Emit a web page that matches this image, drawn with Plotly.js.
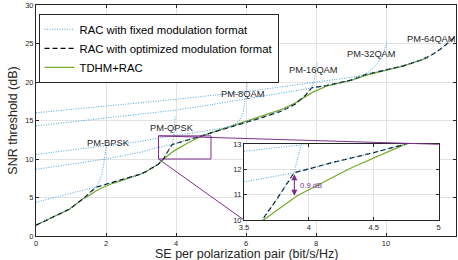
<!DOCTYPE html>
<html><head><meta charset="utf-8">
<script src="https://cdn.plot.ly/plotly-3.0.1.min.js"></script>
<style>html,body{margin:0;padding:0;background:#fff}#chart{width:458px;height:260px}</style>
</head><body><div id="chart"></div>
<script>
// ---- data ----
// RAC with fixed modulation format (one curve per format)
const bpskSE  = [0, 0.5, 0.95, 1.33, 1.57, 1.71, 1.8, 1.88, 1.93, 1.97, 2.0, 2.01];
const bpskSNR = [1.4, 2.45, 3.47, 4.77, 5.76, 6.32, 7.0, 8.0, 9.2, 10.3, 11.2, 11.6];
const qpskSE  = [0, 0.5, 1.0, 1.5, 1.71, 2.0, 2.5, 3.0, 3.14, 3.5, 3.64, 3.75, 3.885, 3.94, 3.96, 3.975];
const qpskSNR = [4.38, 4.94, 5.5, 6.06, 6.3, 6.72, 7.35, 8.05, 8.35, 9.35, 10.0, 10.8, 11.87, 13.0, 14.3, 15.7];
const qam8SE  = [0, 1, 2, 3, 3.47, 3.885, 4.2, 4.5, 4.74, 5.0, 5.3, 5.55, 5.7, 5.83, 5.92, 5.98, 6.02, 6.04];
const qam8SNR = [8.66, 9.3, 10.0, 10.9, 11.48, 11.87, 12.3, 12.67, 13.0, 13.4, 13.8, 14.2, 14.6, 15.1, 16.0, 17.5, 19.0, 20.3];
const qam16SE  = [0, 1, 2, 3, 3.5, 3.93, 4.5, 5.0, 5.55, 5.85, 6.4, 7.0, 7.4, 7.7, 7.88, 7.95, 8.0, 8.03];
const qam16SNR = [10.6, 11.15, 11.7, 12.3, 12.72, 12.97, 13.4, 13.75, 14.2, 14.6, 15.3, 16.2, 17.1, 18.3, 19.25, 20.3, 21.4, 22.4];
const qam32SE  = [0, 2, 4, 5, 6, 7, 7.5, 7.88, 8.3, 8.7, 9.0, 9.3, 9.5, 9.7, 9.85, 9.95, 10.03];
const qam32SNR = [14.3, 15.3, 16.35, 17.05, 17.8, 18.55, 18.9, 19.25, 19.55, 19.9, 20.25, 20.75, 21.3, 22.1, 23.0, 24.0, 25.2];
const qam64SE  = [0, 2, 4, 6, 8, 9, 9.4, 10, 10.5, 11, 11.3, 11.6, 11.8, 11.95, 12.0];
const qam64SNR = [16.0, 16.85, 17.75, 18.75, 19.95, 20.6, 20.95, 21.55, 22.1, 22.85, 23.5, 24.4, 25.2, 25.8, 26.0];
// RAC with optimized modulation format
const optSE  = [0, 0.5, 0.95, 1.33, 1.57, 1.71, 2.0, 2.5, 3.0, 3.14, 3.5, 3.64, 3.75, 3.885, 4.2, 4.5, 4.74, 5.0, 5.3, 5.55, 5.85, 6.4, 7.0, 7.4, 7.7, 7.88, 8.3, 8.7, 9.0, 9.4, 10.0, 10.5, 11.0, 11.3, 11.6, 11.8, 11.95, 12.0];
const optSNR = [1.4, 2.45, 3.47, 4.77, 5.76, 6.32, 6.72, 7.35, 8.05, 8.35, 9.35, 10.0, 10.8, 11.87, 12.3, 12.67, 13.0, 13.4, 13.8, 14.2, 14.6, 15.3, 16.2, 17.1, 18.3, 19.25, 19.55, 19.9, 20.25, 20.95, 21.55, 22.1, 22.85, 23.5, 24.4, 25.2, 25.8, 26.0];
// TDHM+RAC
const tdhmSE  = [0, 0.5, 0.95, 1.33, 1.5, 1.71, 1.9, 2.2, 2.6, 3.0, 3.14, 3.5, 3.65, 3.91, 4.32, 4.74, 5.0, 5.5, 6.0, 6.5, 7.0, 7.4, 7.7, 7.9, 8.3, 8.7, 9.0, 9.5, 10.0, 10.5, 11.0, 11.2];
const tdhmSNR = [1.4, 2.45, 3.47, 4.77, 5.2, 5.85, 6.3, 6.85, 7.4, 8.05, 8.35, 9.35, 10.0, 10.96, 12.05, 13.0, 13.4, 14.15, 14.85, 15.55, 16.4, 17.25, 18.05, 18.65, 19.45, 19.85, 20.2, 20.95, 21.55, 22.1, 22.85, 23.2];
// format labels
const fmtLabels = ['PM-BPSK', 'PM-QPSK', 'PM-8QAM', 'PM-16QAM', 'PM-32QAM', 'PM-64QAM'];
const fmtLabelSE = [2.06, 3.89, 5.9, 7.94, 9.58, 11.3];
const fmtLabelSNR = [12.1, 14.0, 18.4, 21.5, 23.6, 25.6];
const gapLabel = '0.9 dB';
const gapSE = 3.888, gapLow = 10.96, gapHigh = 11.87;
const seriesNames = ['RAC with fixed modulation format', 'RAC with optimized modulation format', 'TDHM+RAC'];
const xTitle = 'SE per polarization pair (bit/s/Hz)';
const yTitle = 'SNR threshold (dB)';

// ---- styling / layout ----
const FONT = 'Liberation Sans, Arial, Helvetica, sans-serif';
const BLUE = '#4aa3df', GREEN = '#77ac30', PURPLE = '#7e2f8e', AX = '#262626', GRID = '#e3e3e3';
const zoomX = [3.5, 5], zoomY = [10, 13];
const mainX = [0, 12], mainY = [0, 30];
const inDomX = [0.4952, 0.9588], inDomY = [0.0693, 0.397];

const fixedSets = [[bpskSE,bpskSNR],[qpskSE,qpskSNR],[qam8SE,qam8SNR],[qam16SE,qam16SNR],[qam32SE,qam32SNR],[qam64SE,qam64SNR]];
const traces = [];
['', '2'].forEach(function(s){
  const ax = {xaxis:'x'+s, yaxis:'y'+s};
  const main = s === '';
  traces.push(Object.assign({x:tdhmSE, y:tdhmSNR, mode:'lines', name:seriesNames[2], legendrank:3,
    showlegend:main, line:{color:GREEN, width:1.3}}, ax));
  traces.push(Object.assign({x:optSE, y:optSNR, mode:'lines', name:seriesNames[1], legendrank:2,
    showlegend:main, line:{color:'#000', width:1.2, dash:'5px,3px'}}, ax));
  fixedSets.forEach(function(p, i){
    traces.push(Object.assign({x:p[0], y:p[1], mode:'lines', name:seriesNames[0], legendrank:1,
      showlegend: main && i===0, line:{color:BLUE, width:1, dash:'1px,1.5px'}}, ax));
  });
});

const annotations = fmtLabels.map(function(t, i){
  return {x:fmtLabelSE[i], y:fmtLabelSNR[i], xref:'x', yref:'y', text:t, showarrow:false,
    font:{family:FONT, size:9.3, color:AX}};
});
annotations.push({x:gapSE, y:gapLow, ax:gapSE, ay:gapHigh, xref:'x2', yref:'y2', axref:'x2', ayref:'y2',
  text:'', showarrow:true, arrowhead:2, arrowside:'end+start', arrowsize:1.1, arrowwidth:1.1,
  arrowcolor:PURPLE, standoff:0, startstandoff:0});
annotations.push({x:gapSE + 0.03, y:(gapLow + gapHigh)/2 - 0.03, xref:'x2', yref:'y2', xanchor:'left',
  text:gapLabel, showarrow:false, font:{family:FONT, size:7.7, color:PURPLE}});
// x-axis title placed as paper text so it sits clearly below the tick labels
annotations.push({x:0.5, y:-0.078, xref:'paper', yref:'paper', xanchor:'center', yanchor:'middle',
  text:xTitle, showarrow:false, font:{family:FONT, size:12.5, color:AX}});

function px(v, r){ return (v - r[0])/(r[1] - r[0]); }
const shapes = [
  {type:'rect', xref:'x', yref:'y', x0:zoomX[0], x1:zoomX[1], y0:zoomY[0], y1:zoomY[1], line:{color:PURPLE, width:1}},
  {type:'line', xref:'paper', yref:'paper', x0:px(zoomX[0],mainX), y0:px(zoomY[1],mainY), x1:inDomX[1], y1:inDomY[1], line:{color:PURPLE, width:1}},
  {type:'line', xref:'paper', yref:'paper', x0:px(zoomX[0],mainX), y0:px(zoomY[0],mainY), x1:inDomX[0], y1:inDomY[0], line:{color:PURPLE, width:1}}
];

const axBase = {showline:true, linecolor:AX, linewidth:1, mirror:'ticks', ticks:'inside', ticklen:3,
  tickcolor:AX, showgrid:true, gridcolor:GRID, gridwidth:1, zeroline:false,
  tickfont:{family:FONT, size:7.5, color:AX}};

const layout = {
  width:458, height:260, margin:{l:36, r:2, t:5, b:24},
  paper_bgcolor:'#fff', plot_bgcolor:'#fff', font:{family:FONT, color:AX},
  xaxis:Object.assign({}, axBase, {range:mainX, dtick:2, tick0:0, domain:[0,1]}),
  yaxis:Object.assign({}, axBase, {range:mainY, dtick:5, tick0:0, domain:[0,1],
    title:{text:yTitle, font:{family:FONT, size:12.5, color:AX}, standoff:4}}),
  xaxis2:Object.assign({}, axBase, {range:zoomX, tickvals:[3.5,4,4.5,5], ticktext:['3.5','4','4.5','5'], domain:inDomX, anchor:'y2'}),
  yaxis2:Object.assign({}, axBase, {range:zoomY, tickvals:[10,11,12,13], domain:inDomY, anchor:'x2'}),
  legend:{x:0.006, y:0.962, xanchor:'left', yanchor:'top', bgcolor:'#fff', bordercolor:AX, borderwidth:1,
    font:{family:FONT, size:11.3, color:'#000'}, tracegroupgap:0},
  annotations:annotations, shapes:shapes
};
Plotly.newPlot('chart', traces, layout, {displayModeBar:false, staticPlot:true});
</script></body></html>
